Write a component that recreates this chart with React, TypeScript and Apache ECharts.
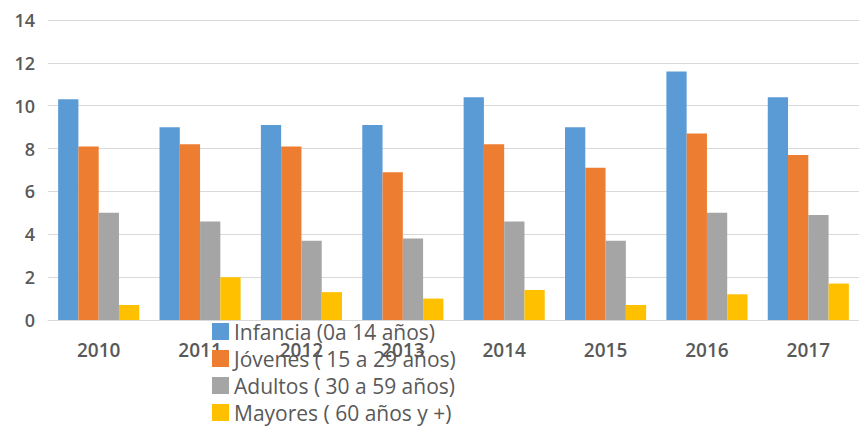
import React, { useEffect, useRef } from "react";
import * as echarts from "echarts";

const categories = ["2010", "2011", "2012", "2013", "2014", "2015", "2016", "2017"];
const seriesNames = [
  "Infancia (0a 14 años)",
  "Jóvenes ( 15 a 29 años)",
  "Adultos ( 30 a 59 años)",
  "Mayores ( 60 años y +)",
];
const infancia = [10.3, 9.0, 9.1, 9.1, 10.4, 9.0, 11.6, 10.4];
const jovenes = [8.1, 8.2, 8.1, 6.9, 8.2, 7.1, 8.7, 7.7];
const adultos = [5.0, 4.6, 3.7, 3.8, 4.6, 3.7, 5.0, 4.9];
const mayores = [0.7, 2.0, 1.3, 1.0, 1.4, 0.7, 1.2, 1.7];
const colors = ["#5b9bd5", "#ed7d31", "#a5a5a5", "#ffc000"];

export default function App() {
  const ref = useRef<HTMLDivElement>(null);
  useEffect(() => {
    if (!ref.current) return;
    const chart = echarts.init(ref.current, undefined, { renderer: "svg" });
    const data = [infancia, jovenes, adultos, mayores];
    chart.setOption({
      animation: false,
      backgroundColor: "#ffffff",
      grid: { left: 48, top: 20, bottom: 108, width: 818, containLabel: false },
      legend: {
        orient: "vertical",
        left: 212,
        top: 321,
        padding: 0,
        itemWidth: 17,
        itemHeight: 17,
        itemGap: 6,
        icon: "rect",
        data: seriesNames,
        textStyle: {
          color: "#595959",
          fontSize: 21,
          lineHeight: 21,
          fontFamily: "Open Sans",
        },
      },
      xAxis: {
        type: "category",
        data: categories,
        axisTick: { show: false },
        axisLine: { lineStyle: { color: "#d9d9d9", width: 1 } },
        axisLabel: {
          color: "#595959",
          fontSize: 19,
          fontWeight: 600,
          fontFamily: "Open Sans",
          margin: 20,
        },
      },
      yAxis: {
        type: "value",
        min: 0,
        max: 14,
        interval: 2,
        axisLine: { show: false },
        axisTick: { show: false },
        splitLine: { lineStyle: { color: "#d9d9d9", width: 1 } },
        axisLabel: {
          color: "#595959",
          fontSize: 18,
          fontWeight: 600,
          fontFamily: "Open Sans",
          margin: 13,
        },
      },
      series: seriesNames.map((name, i) => ({
        name,
        type: "bar",
        data: data[i],
        itemStyle: { color: colors[i] },
        barGap: "0%",
        barCategoryGap: "20%",
      })),
    });
    return () => chart.dispose();
  }, []);
  return (
    <div
      ref={ref}
      style={{ position: "fixed", left: 0, top: 0, width: 859, height: 428 }}
    />
  );
}
